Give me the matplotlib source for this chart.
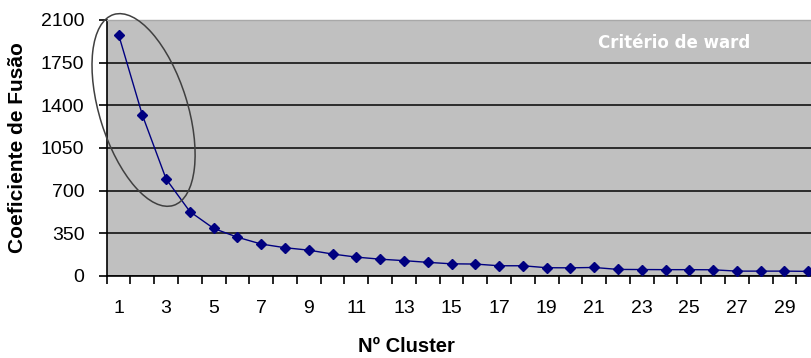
import matplotlib
matplotlib.use("Agg")
import matplotlib.pyplot as plt
from matplotlib.patches import Ellipse
from matplotlib.transforms import ScaledTranslation
import numpy as np

# Fusion coefficient per number of clusters (Ward criterion)
clusters = list(range(1, 31))
coefficients = [1980, 1320, 795, 528, 390, 318, 262, 232, 212, 180,
                155, 138, 126, 112, 100, 98, 84, 84, 68, 67,
                70, 54, 53, 52, 52, 51, 40, 40, 40, 38]
y_ticks = [0, 350, 700, 1050, 1400, 1750, 2100]
x_tick_labels = [str(c) for c in clusters if c % 2 == 1]

plt.rcParams['font.family'] = ['Liberation Sans', 'DejaVu Sans']

fig = plt.figure(figsize=(8.12, 3.58), dpi=100)
ax = fig.add_axes([106.7 / 812, 82 / 358, 713.4 / 812, 256 / 358])
ax.set_facecolor('#C0C0C0')

ax.plot(clusters, coefficients, color='#000080', lw=1.0, marker='D',
        markersize=5.5, markerfacecolor='#000080', markeredgecolor='#000080',
        zorder=3)

ax.set_xlim(0.5, 30.5)
ax.set_ylim(0, 2100)

# horizontal gridlines
ax.set_yticks(y_ticks)
ax.yaxis.grid(True, color='#202020', lw=1.3)
ax.set_axisbelow(True)
ax.tick_params(axis='y', direction='out', length=6, width=1.2, pad=10,
               labelsize=14, colors='black')

# category boundaries carry the tick marks; odd categories carry labels
ax.set_xticks(np.arange(0.5, 31, 1.0))
ax.set_xticklabels([])
ax.set_xticks([c for c in clusters if c % 2 == 1], minor=True)
ax.set_xticklabels(x_tick_labels, minor=True)
ax.tick_params(axis='x', which='major', direction='out', length=6, width=1.2)
ax.tick_params(axis='x', which='minor', length=0, pad=17, labelsize=14,
               colors='black')

for side in ('left', 'bottom'):
    ax.spines[side].set_color('black')
    ax.spines[side].set_linewidth(1.2)
ax.spines['right'].set_visible(False)
ax.spines['top'].set_color('#A8A8A8')
ax.spines['top'].set_linewidth(1.0)

ax.set_ylabel('Coeficiente de Fusão', fontsize=15, fontweight='bold')
ax.yaxis.set_label_coords(18 / 812, 0.5 * (82 + 338) / 358,
                          transform=fig.transFigure)
ax.yaxis.label.set_verticalalignment('center')
ax.set_xlabel('Nº Cluster', fontsize=14.5, fontweight='bold')
ax.xaxis.set_label_coords(0.5, 11 / 358, transform=fig.transFigure)
ax.xaxis.label.set_verticalalignment('center')

fig.text(674 / 812, 1 - 43 / 358, 'Critério de ward', color='white',
         fontsize=12, fontweight='bold', family='DejaVu Sans',
         ha='center', va='center')

# ellipse highlighting the first three clusters
anchor = ScaledTranslation(2.05, 1362, ax.transData)
ell = Ellipse((0, 0), width=2.0, height=0.88, angle=-72.6,
              transform=fig.dpi_scale_trans + anchor,
              fill=False, edgecolor='#404040', lw=1.1, zorder=4,
              clip_on=False)
fig.add_artist(ell)

fig.savefig('out.png', dpi=100)
